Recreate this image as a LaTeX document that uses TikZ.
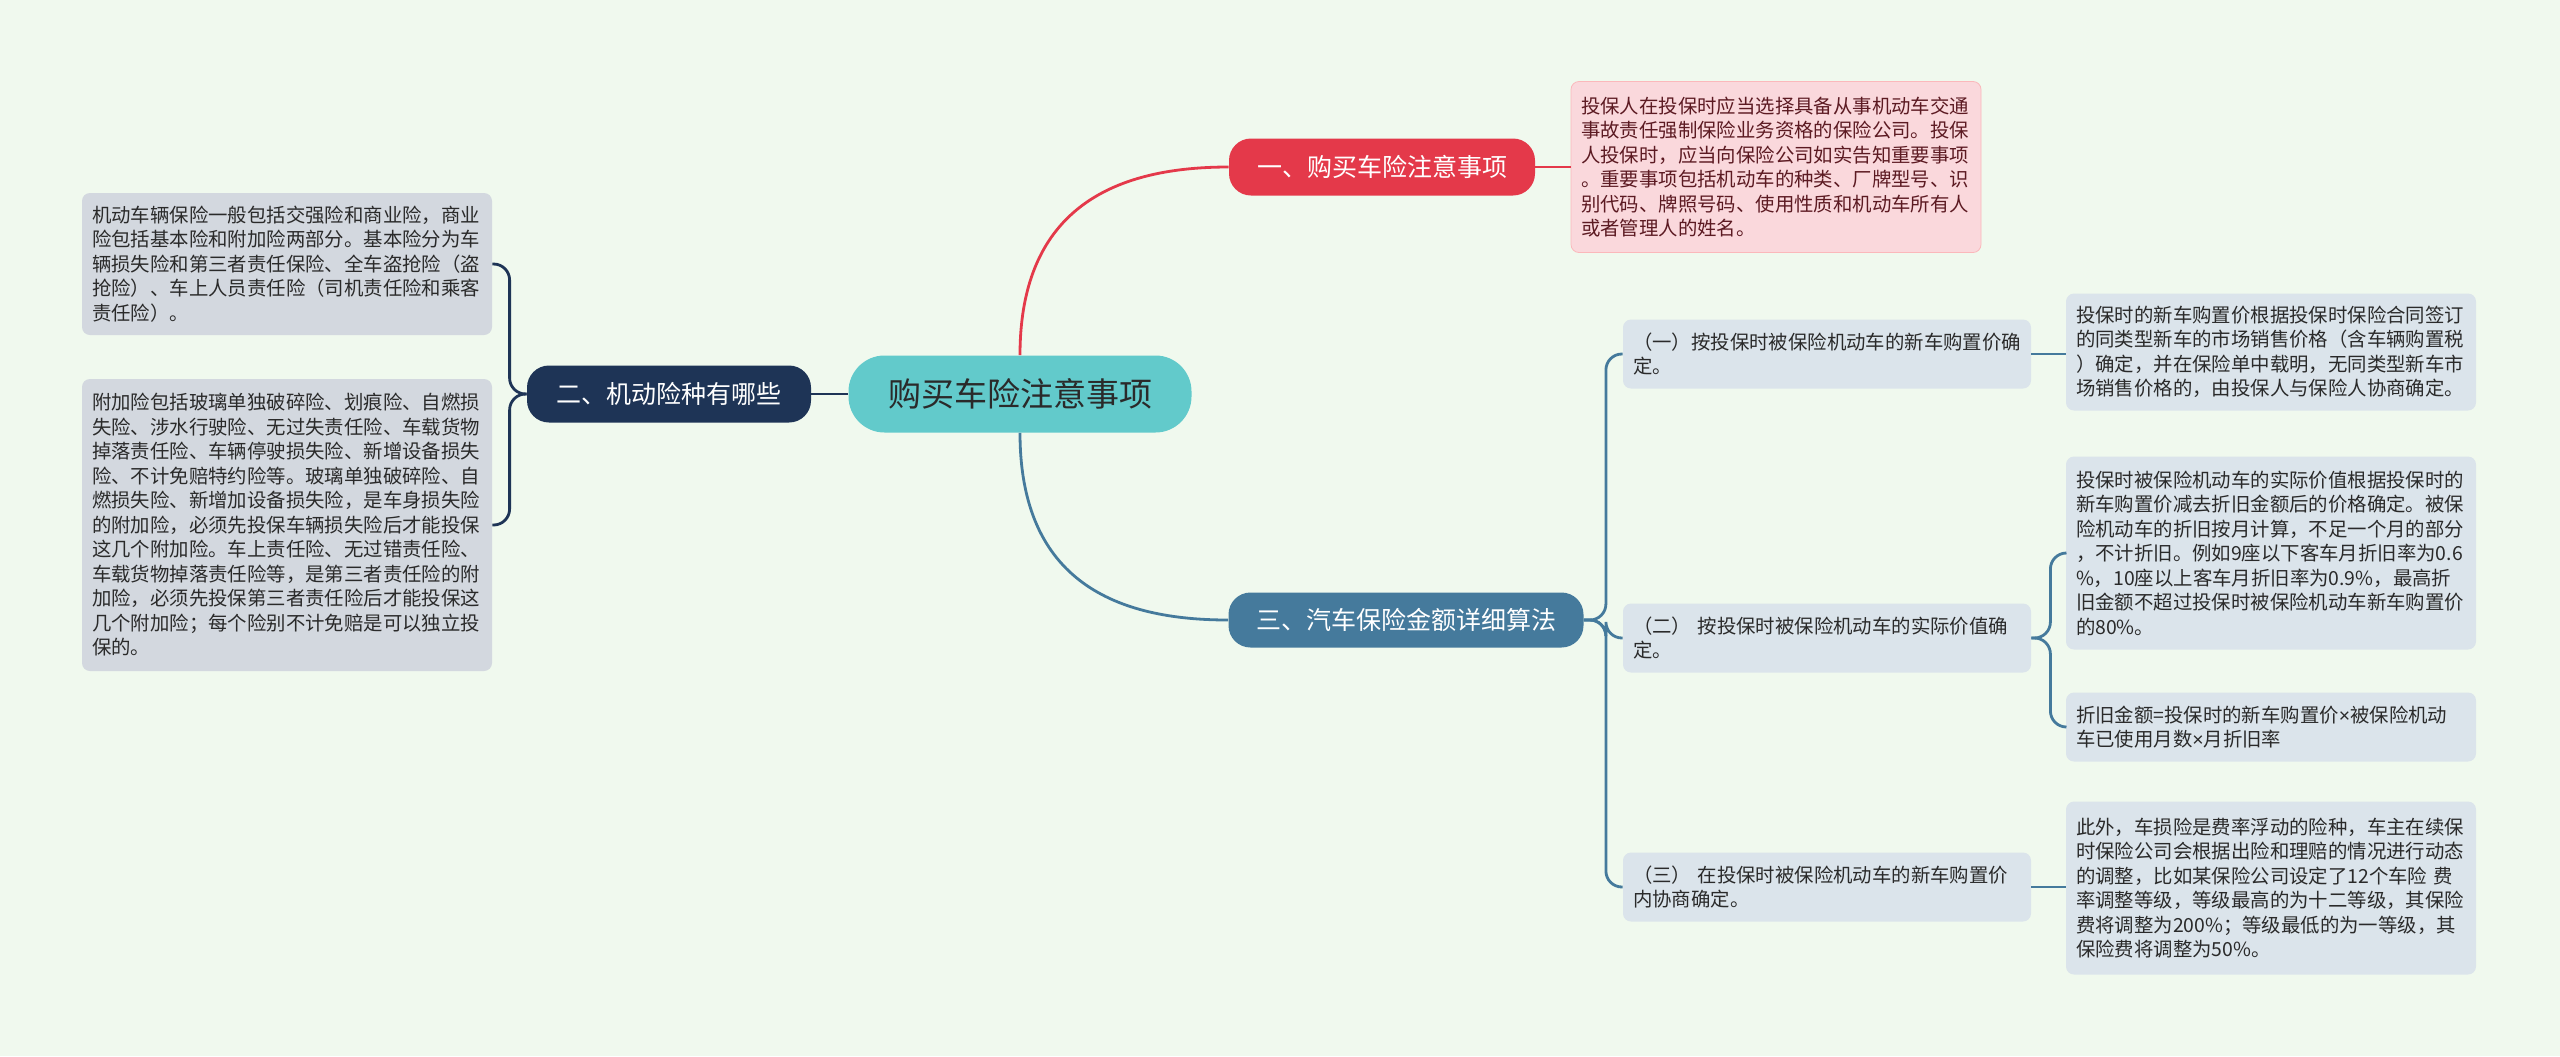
\documentclass[tikz,border=0pt]{standalone}
\usepackage{fontspec}
\setmainfont{Noto Sans CJK SC}
\newfontfamily\latinf{Liberation Sans}
\definecolor{bg}{HTML}{F0F9EE}
\definecolor{rootc}{HTML}{62CACB}
\definecolor{redc}{HTML}{E4394A}
\definecolor{pinkc}{HTML}{FAD8DC}
\definecolor{pinktext}{HTML}{5C1A22}
\definecolor{navyc}{HTML}{1E3456}
\definecolor{greyc}{HTML}{D3D8DF}
\definecolor{steelc}{HTML}{457A9C}
\definecolor{lightc}{HTML}{DBE4EB}
\definecolor{textc}{HTML}{2A2A2A}
\tikzset{
  leafbox/.style={rounded corners=4pt, inner xsep=5pt, inner ysep=3pt, align=left,
    text width=195pt, font=\fontsize{9.7pt}{12.25pt}\selectfont, text=textc},
  branchbox/.style={rounded corners=11pt, minimum height=28.5pt, inner sep=0pt,
    font=\fontsize{12.5pt}{15pt}\selectfont, text=white},
  conn/.style={line width=1.4pt},
}
\begin{document}
\begin{tikzpicture}[x=0.5pt,y=-0.5pt]
\useasboundingbox (0,0) rectangle (2560,1056);
\fill[bg] (0,0) rectangle (2560,1056);

% root
\node[fill=rootc, rounded corners=18pt, minimum width=171.5pt, minimum height=38.5pt, inner sep=0pt,
  font=\fontsize{16.5pt}{19pt}\selectfont, text=textc] (root) at (1020,394) {购买车险注意事项};

% branches
\node[branchbox, fill=redc, minimum width=153pt] (b1) at (1382,167) {一、购买车险注意事项};
\node[branchbox, fill=navyc, minimum width=142pt] (b2) at (669,394) {二、机动险种有哪些};
\node[branchbox, fill=steelc, minimum width=177.5pt, minimum height=27.5pt] (b3) at (1406,620) {三、汽车保险金额详细算法};

% leaf 1
\node[leafbox, fill=pinkc, draw=pinkc!85!red, line width=0.4pt, text=pinktext, minimum height=85.5pt] (l1) at (1776,167) {投保人在投保时应当选择具备从事机动车交通\\事故责任强制保险业务资格的保险公司。投保\\人投保时，应当向保险公司如实告知重要事项\\。重要事项包括机动车的种类、厂牌型号、识\\别代码、牌照号码、使用性质和机动车所有人\\或者管理人的姓名。};

% left leaves
\node[leafbox, fill=greyc, minimum height=71pt] (l2a) at (287,264) {机动车辆保险一般包括交强险和商业险，商业\\险包括基本险和附加险两部分。基本险分为车\\辆损失险和第三者责任保险、全车盗抢险（盗\\抢险）、车上人员责任险（司机责任险和乘客\\责任险）。};
\node[leafbox, fill=greyc, minimum height=146pt] (l2b) at (287,525) {附加险包括玻璃单独破碎险、划痕险、自燃损\\失险、涉水行驶险、无过失责任险、车载货物\\掉落责任险、车辆停驶损失险、新增设备损失\\险、不计免赔特约险等。玻璃单独破碎险、自\\燃损失险、新增加设备损失险，是车身损失险\\的附加险，必须先投保车辆损失险后才能投保\\这几个附加险。车上责任险、无过错责任险、\\车载货物掉落责任险等，是第三者责任险的附\\加险，必须先投保第三者责任险后才能投保这\\几个附加险；每个险别不计免赔是可以独立投\\保的。};

% sub nodes
\node[leafbox, fill=lightc, minimum height=34.5pt, text width=194pt] (s1) at (1827,354) {（一）按投保时被保险机动车的新车购置价确\\定。};
\node[leafbox, fill=lightc, minimum height=34.5pt, text width=194pt] (s2) at (1827,638) {（二） 按投保时被保险机动车的实际价值确\\定。};
\node[leafbox, fill=lightc, minimum height=34.5pt, text width=194pt] (s3) at (1827,887) {（三） 在投保时被保险机动车的新车购置价\\内协商确定。};

% right leaves
\node[leafbox, fill=lightc, minimum height=58.5pt] (l31) at (2271,352) {投保时的新车购置价根据投保时保险合同签订\\的同类型新车的市场销售价格（含车辆购置税\\）确定，并在保险单中载明，无同类型新车市\\场销售价格的，由投保人与保险人协商确定。};
\node[leafbox, fill=lightc, minimum height=96.5pt] (l32a) at (2271,553) {投保时被保险机动车的实际价值根据投保时的\\新车购置价减去折旧金额后的价格确定。被保\\险机动车的折旧按月计算，不足一个月的部分\\，不计折旧。例如9座以下客车月折旧率为0.6\\\%，10座以上客车月折旧率为0.9\%，最高折\\旧金额不超过投保时被保险机动车新车购置价\\的80\%。};
\node[leafbox, fill=lightc, minimum height=34.5pt] (l32b) at (2271,727) {折旧金额=投保时的新车购置价{\latinf ×}被保险机动\\车已使用月数{\latinf ×}月折旧率};
\node[leafbox, fill=lightc, minimum height=86.5pt] (l33) at (2271,888) {此外，车损险是费率浮动的险种，车主在续保\\时保险公司会根据出险和理赔的情况进行动态\\的调整，比如某保险公司设定了12个车险 费\\率调整等级，等级最高的为十二等级，其保险\\费将调整为200\%；等级最低的为一等级，其\\保险费将调整为50\%。};

% connectors
\draw[conn, redc] (root.north) .. controls +(0,-150) and +(-110,0) .. (b1.west);
\draw[conn, steelc] (root.south) .. controls +(0,150) and +(-110,0) .. (b3.west);
\draw[conn, navyc] (root.west) -- (b2.east);
\draw[conn, redc] (b1.east) -- (l1.west);

\draw[conn, navyc, rounded corners=8pt] (b2.west) -- ++(-17,0) |- (l2a.east);
\draw[conn, navyc, rounded corners=8pt] (b2.west) -- ++(-17,0) |- (l2b.east);

\draw[conn, steelc, rounded corners=8pt] (b3.east) -- ++(22,0) |- (s1.west);
\draw[conn, steelc, rounded corners=8pt] (b3.east) -- ++(22,0) |- (s2.west);
\draw[conn, steelc, rounded corners=8pt] (b3.east) -- ++(22,0) |- (s3.west);

\draw[conn, steelc] (s1.east) -- (s1.east -| l31.west);
\draw[conn, steelc, rounded corners=8pt] (s2.east) -- ++(19,0) |- (l32a.west);
\draw[conn, steelc, rounded corners=8pt] (s2.east) -- ++(19,0) |- (l32b.west);
\draw[conn, steelc] (s3.east) -- (s3.east -| l33.west);
\end{tikzpicture}
\end{document}
